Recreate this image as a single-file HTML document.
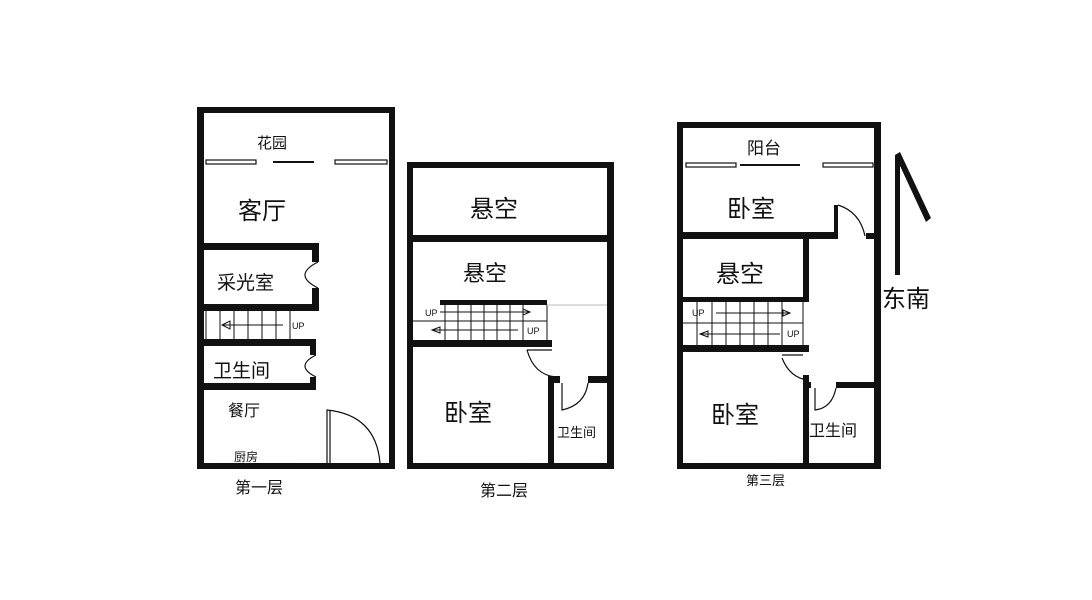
<!DOCTYPE html>
<html><head><meta charset="utf-8"><style>
html,body{margin:0;padding:0;background:#fff;}
svg{display:block;}
text{font-family:"Liberation Sans","Noto Sans CJK SC",sans-serif;fill:#111;}
</style></head><body>
<svg width="1092" height="600" viewBox="0 0 1092 600" xmlns="http://www.w3.org/2000/svg">
<rect width="1092" height="600" fill="#fff"/>
<g fill="#111">
<!-- Floor 1 -->
<rect x="197" y="107" width="198" height="6"/>
<rect x="197" y="107" width="7" height="362"/>
<rect x="389" y="107" width="6" height="362"/>
<rect x="197" y="463" width="198" height="6"/>
<rect x="204" y="243" width="115" height="7"/>
<rect x="312" y="243" width="7" height="19"/>
<rect x="312" y="288" width="7" height="23"/>
<rect x="204" y="304" width="115" height="7"/>
<rect x="204" y="339" width="112" height="7"/>
<rect x="310" y="339" width="6" height="16"/>
<rect x="310" y="377" width="6" height="13"/>
<rect x="204" y="383" width="112" height="7"/>
<!-- Floor 2 -->
<rect x="407" y="162" width="207" height="6"/>
<rect x="407" y="162" width="6" height="307"/>
<rect x="607" y="162" width="7" height="307"/>
<rect x="407" y="463" width="207" height="6"/>
<rect x="413" y="235" width="194" height="7"/>
<rect x="440" y="300" width="107" height="5"/>
<rect x="413" y="340" width="139" height="7"/>
<rect x="548" y="376" width="6" height="93"/>
<rect x="548" y="376" width="12" height="7"/>
<rect x="588" y="376" width="19" height="7"/>
<!-- Floor 3 -->
<rect x="677" y="122" width="204" height="6"/>
<rect x="677" y="122" width="6" height="347"/>
<rect x="874" y="122" width="7" height="347"/>
<rect x="677" y="463" width="204" height="6"/>
<rect x="683" y="232" width="155" height="7"/>
<rect x="834" y="205" width="4" height="34"/>
<rect x="866" y="233" width="8" height="6"/>
<rect x="803" y="239" width="6" height="63"/>
<rect x="683" y="297" width="126" height="5"/>
<rect x="683" y="345" width="126" height="7"/>
<rect x="803" y="375" width="6" height="94"/>
<rect x="803" y="382" width="8" height="6"/>
<rect x="836" y="382" width="38" height="6"/>
<!-- north arrow -->
<rect x="895" y="155" width="5" height="120"/>
<polygon points="895,155 900,152 931,218 926,222"/>
</g>
<g fill="none" stroke="#111" stroke-width="1.2">
<!-- windows floor1 -->
<rect x="206" y="160" width="50" height="4"/><rect x="335" y="160" width="52" height="4"/>
<line x1="273" y1="162" x2="314" y2="162" stroke-width="2"/>
<rect x="214" y="464" width="84" height="4"/>
<!-- stairs 1 -->
<g stroke-width="1"><line x1="206" y1="311" x2="206" y2="339"/><line x1="220" y1="311" x2="220" y2="339"/><line x1="234" y1="311" x2="234" y2="339"/><line x1="248" y1="311" x2="248" y2="339"/><line x1="262" y1="311" x2="262" y2="339"/><line x1="276" y1="311" x2="276" y2="339"/><line x1="290" y1="311" x2="290" y2="339"/>
<line x1="222" y1="325" x2="283" y2="325"/><polygon points="222,325 230,321 230,329"/></g>
<!-- doors floor1 -->
<path d="M318 262 Q292 275 318 288"/>
<path d="M316 355 Q294 366 316 377"/>
<path d="M327 463 L327 410 Q376 415 380 463"/>
<line x1="330" y1="410" x2="330" y2="463"/>
<!-- floor2 windows -->
<rect x="421" y="464" width="109" height="4"/><rect x="555" y="464" width="50" height="4"/>
<!-- stairs 2 -->
<g stroke-width="1"><line x1="413" y1="321" x2="547" y2="321"/>
<line x1="445" y1="305" x2="445" y2="340"/><line x1="458" y1="305" x2="458" y2="340"/><line x1="471" y1="305" x2="471" y2="340"/><line x1="484" y1="305" x2="484" y2="340"/><line x1="497" y1="305" x2="497" y2="340"/><line x1="510" y1="305" x2="510" y2="340"/><line x1="523" y1="305" x2="523" y2="340"/><line x1="547" y1="305" x2="547" y2="340"/>
<line x1="440" y1="312" x2="530" y2="312"/><polygon points="530,312 523,309 523,315"/>
<line x1="432" y1="330" x2="518" y2="330"/><polygon points="432,330 440,327 440,333"/>
<line x1="547" y1="305" x2="607" y2="305" stroke="#bbb"/></g>
<path d="M527 350 L552 350 M527 350 Q534 375 556 377"/>
<path d="M562 383 L562 410 Q585 405 588 383"/>
<!-- floor3 windows -->
<rect x="686" y="163" width="50" height="4"/><rect x="823" y="163" width="50" height="4"/>
<line x1="740" y1="165" x2="800" y2="165" stroke-width="2"/>
<rect x="702" y="464" width="74" height="4"/><rect x="811" y="464" width="57" height="4"/>
<!-- stairs 3 -->
<g stroke-width="1"><line x1="683" y1="323" x2="803" y2="323"/>
<line x1="697" y1="302" x2="697" y2="345"/><line x1="712" y1="302" x2="712" y2="345"/><line x1="726" y1="302" x2="726" y2="345"/><line x1="740" y1="302" x2="740" y2="345"/><line x1="754" y1="302" x2="754" y2="345"/><line x1="768" y1="302" x2="768" y2="345"/><line x1="782" y1="302" x2="782" y2="345"/><line x1="803" y1="302" x2="803" y2="345"/>
<line x1="716" y1="313" x2="790" y2="313"/><polygon points="790,313 783,310 783,316"/>
<line x1="700" y1="334" x2="780" y2="334"/><polygon points="700,334 708,331 708,337"/></g>
<path d="M838 205 Q860 212 865 236"/>
<path d="M782 355 L803 355 M782 358 Q790 378 808 380"/>
<path d="M815 388 L815 410 Q832 408 836 388"/>
</g>
<g fill="#111" font-size="9" font-family="Liberation Sans,sans-serif">
<text x="292" y="329">UP</text>
<text x="425" y="316">UP</text><text x="527" y="334">UP</text>
<text x="692" y="316">UP</text><text x="787" y="337">UP</text>
</g>
<g>
<text x="257" y="148" font-size="15">花园</text>
<text x="238" y="219" font-size="24">客厅</text>
<text x="217" y="289" font-size="19">采光室</text>
<text x="213" y="377" font-size="19">卫生间</text>
<text x="228" y="416" font-size="16">餐厅</text>
<text x="234" y="461" font-size="12">厨房</text>
<text x="235" y="493" font-size="16">第一层</text>
<text x="470" y="217" font-size="24">悬空</text>
<text x="463" y="281" font-size="22">悬空</text>
<text x="444" y="421" font-size="24">卧室</text>
<text x="557" y="437" font-size="13">卫生间</text>
<text x="480" y="496" font-size="16">第二层</text>
<text x="747" y="154" font-size="17">阳台</text>
<text x="727" y="217" font-size="24">卧室</text>
<text x="716" y="282" font-size="24">悬空</text>
<text x="711" y="423" font-size="24">卧室</text>
<text x="809" y="436" font-size="16">卫生间</text>
<text x="746" y="485" font-size="13">第三层</text>
<text x="882" y="307" font-size="24">东南</text>
</g>
</svg>
</body></html>
